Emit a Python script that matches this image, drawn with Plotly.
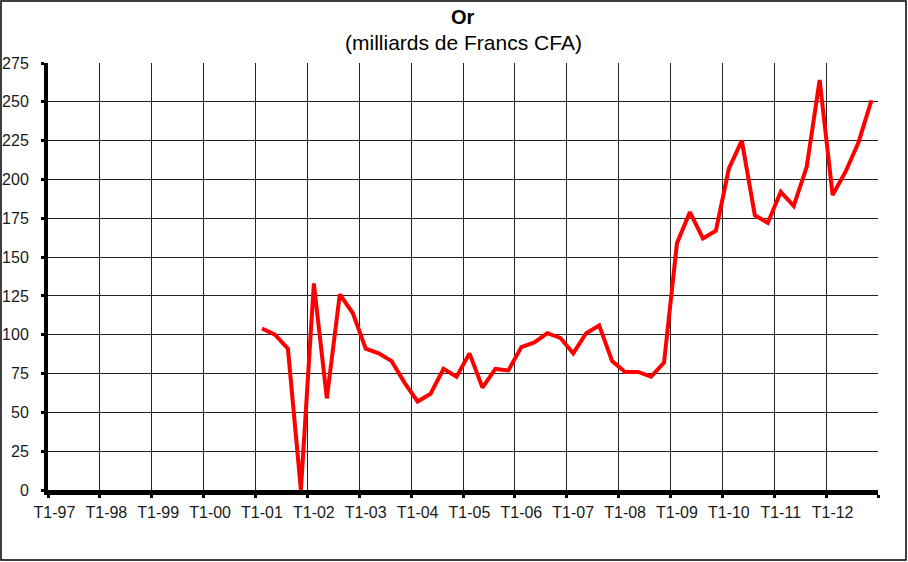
import plotly.graph_objects as go

years = ["97", "98", "99", "00", "01", "02", "03", "04", "05", "06", "07", "08", "09", "10", "11", "12"]
quarters = [f"T{q}-{y}" for y in years for q in range(1, 5)]
tick_labels = [f"T1-{y}" for y in years]

# Or, milliards de Francs CFA (T1-97 .. T4-12); no data before T1-01
or_values = [None] * 16 + [
    104, 100, 91, 0,
    133, 59, 126, 114,
    91, 88, 83, 69,
    57, 62, 78, 73,
    88, 66, 78, 77,
    92, 95, 101, 98,
    88, 101, 106, 83,
    76, 76, 73, 82,
    159, 179, 162, 167,
    207, 225, 177, 172,
    192, 183, 208, 264,
    190, 205, 224, 251,
]
y_ticks = list(range(0, 276, 25))

idx = list(range(len(quarters)))

fig = go.Figure()
fig.add_trace(go.Scatter(
    x=idx, y=or_values, mode="lines",
    line=dict(color="#FF0000", width=4),
    connectgaps=False, hoverinfo="skip", showlegend=False,
    customdata=quarters,
))

font_family = "Liberation Sans, Arial, sans-serif"

fig.update_layout(
    width=908, height=562,
    margin=dict(l=48, r=30, t=63, b=72),
    paper_bgcolor="white", plot_bgcolor="white",
    font=dict(family=font_family, color="#1a1a1a", size=16),
    showlegend=False,
    xaxis=dict(
        range=[-0.5, len(quarters) - 0.5],
        tickmode="array",
        tickvals=[i * 4 for i in range(len(tick_labels))],
        ticktext=tick_labels,
        showgrid=False, zeroline=False, automargin=False,
        ticks="", tickfont=dict(size=16, color="#1a1a1a"),
        showline=True, linecolor="black", linewidth=5,
        ticklabelstandoff=4,
        minor=dict(tickmode="array",
                   tickvals=[i * 4 - 0.5 for i in range(len(tick_labels) + 1)],
                   showgrid=True, gridcolor="#222222", gridwidth=1,
                   ticks="outside", ticklen=3, tickcolor="black", tickwidth=3),
    ),
    yaxis=dict(
        range=[0, 275],
        tickmode="array", tickvals=y_ticks,
        showgrid=True, gridcolor="#222222", gridwidth=1,
        zeroline=False, automargin=False,
        showline=True, linecolor="black", linewidth=4,
        ticks="outside", ticklen=3, tickcolor="black", tickwidth=3,
        tickfont=dict(size=16, color="#1a1a1a"),
        ticklabelstandoff=9,
    ),
    annotations=[
        dict(text="<b>Or</b>", xref="paper", yref="paper",
             x=(463 - 48) / 830, y=(490 - 17) / 427, xanchor="center", yanchor="middle",
             showarrow=False, font=dict(size=20, family=font_family, color="black")),
        dict(text="(milliards de Francs CFA)", xref="paper", yref="paper",
             x=(463 - 48) / 830, y=(490 - 43) / 427, xanchor="center", yanchor="middle",
             showarrow=False, font=dict(size=21, family=font_family, color="black")),
    ],
    shapes=[
        dict(type="rect", xref="paper", yref="paper",
             x0=(1 - 48) / 830, x1=(906 - 48) / 830,
             y0=(490 - 560) / 427, y1=(490 - 1) / 427,
             line=dict(color="black", width=1.5), layer="below"),
    ],
)

fig.write_html("out.html", config={"displayModeBar": False},
               post_script="document.body.style.margin='0px';")
